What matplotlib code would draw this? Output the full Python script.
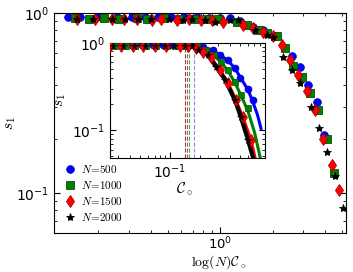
import numpy as np
import matplotlib
matplotlib.use("Agg")
import matplotlib.pyplot as plt

plt.rcParams['mathtext.fontset'] = 'cm'

# main panel: s1 vs log(N) C
x500 = [0.134, 0.158, 0.198, 0.258, 0.314, 0.373, 0.442, 0.525, 0.623, 0.739, 0.865, 1.0,
        1.14, 1.30, 1.54, 1.76, 2.06, 2.58, 2.86, 3.18, 3.58, 3.93]
y500 = [0.95, 0.95, 0.95, 0.95, 0.95, 0.95, 0.95, 0.95, 0.95, 0.95, 0.94, 0.94,
        0.94, 0.90, 0.84, 0.80, 0.74, 0.58, 0.50, 0.40, 0.32, 0.21]
x1000 = [0.147, 0.178, 0.217, 0.265, 0.336, 0.382, 0.479, 0.583, 0.710, 0.85, 0.974, 1.25,
         1.43, 1.65, 1.86, 2.12, 2.35, 2.61, 2.94, 3.27, 3.63, 4.09, 4.49]
y1000 = [0.94, 0.93, 0.94, 0.93, 0.94, 0.93, 0.94, 0.93, 0.93, 0.93, 0.92, 0.89,
         0.86, 0.80, 0.77, 0.74, 0.64, 0.51, 0.44, 0.36, 0.29, 0.20, 0.13]
x1500 = [0.152, 0.191, 0.241, 0.283, 0.336, 0.409, 0.460, 0.568, 0.665, 0.779, 0.90, 1.04,
         1.35, 1.54, 1.76, 2.01, 2.26, 2.51, 2.79, 3.14, 3.49, 3.88, 4.37, 4.79]
y1500 = [0.92, 0.92, 0.92, 0.92, 0.92, 0.91, 0.92, 0.91, 0.92, 0.91, 0.91, 0.89,
         0.86, 0.83, 0.78, 0.74, 0.66, 0.55, 0.45, 0.37, 0.29, 0.20, 0.143, 0.104]
x2000 = [0.152, 0.188, 0.241, 0.287, 0.340, 0.404, 0.511, 0.610, 0.692, 0.82, 0.936, 1.14,
         1.27, 1.58, 1.86, 2.01, 2.29, 2.58, 2.86, 3.31, 3.68, 4.09, 4.54, 5.05]
y2000 = [0.92, 0.92, 0.93, 0.92, 0.92, 0.92, 0.92, 0.91, 0.92, 0.91, 0.89, 0.91,
         0.91, 0.80, 0.755, 0.736, 0.57, 0.48, 0.41, 0.30, 0.23, 0.17, 0.124, 0.083]

# inset: s1 vs C (markers)
c500 = [0.026, 0.033, 0.042, 0.053, 0.067, 0.085, 0.108, 0.137, 0.174, 0.214, 0.269, 0.316,
        0.38, 0.447, 0.501, 0.603, 0.676]
s500 = [0.94, 0.94, 0.94, 0.94, 0.94, 0.94, 0.94, 0.94, 0.94, 0.90, 0.83, 0.73,
        0.64, 0.52, 0.40, 0.30, 0.22]
c1000 = [0.028, 0.036, 0.045, 0.057, 0.072, 0.091, 0.115, 0.146, 0.185, 0.23, 0.275, 0.324,
         0.38, 0.447, 0.513, 0.603]
s1000 = [0.93, 0.93, 0.93, 0.93, 0.93, 0.93, 0.93, 0.93, 0.93, 0.84, 0.72, 0.605,
         0.49, 0.356, 0.253, 0.179]
c1500 = [0.025, 0.032, 0.043, 0.054, 0.071, 0.091, 0.126, 0.151, 0.18, 0.214, 0.257, 0.316,
         0.38, 0.457, 0.537, 0.646]
s1500 = [0.92, 0.92, 0.92, 0.92, 0.92, 0.92, 0.92, 0.92, 0.88, 0.79, 0.69, 0.49,
         0.347, 0.221, 0.141, 0.077]
c2000 = [0.027, 0.034, 0.044, 0.056, 0.07, 0.089, 0.11, 0.14, 0.165, 0.191, 0.24, 0.288,
         0.355, 0.447, 0.513, 0.603]
s2000 = [0.92, 0.92, 0.92, 0.92, 0.92, 0.92, 0.92, 0.92, 0.92, 0.83, 0.73, 0.53,
         0.376, 0.221, 0.141, 0.077]

# inset: solid curves
lc500 = [0.02, 0.17, 0.19, 0.214, 0.269, 0.316, 0.38, 0.447, 0.501, 0.603, 0.676, 0.75, 0.813]
ls500 = [0.95, 0.95, 0.93, 0.89, 0.82, 0.73, 0.63, 0.51, 0.41, 0.29, 0.21, 0.15, 0.105]
lc1000 = [0.02, 0.16, 0.19, 0.23, 0.275, 0.324, 0.38, 0.447, 0.513, 0.603, 0.70, 0.80]
ls1000 = [0.95, 0.95, 0.92, 0.84, 0.72, 0.60, 0.48, 0.35, 0.25, 0.165, 0.095, 0.048]
lc1500 = [0.02, 0.15, 0.18, 0.214, 0.257, 0.316, 0.38, 0.457, 0.537, 0.646, 0.72]
ls1500 = [0.95, 0.95, 0.90, 0.80, 0.68, 0.49, 0.35, 0.22, 0.14, 0.077, 0.045]
lc2000 = [0.02, 0.14, 0.165, 0.191, 0.24, 0.288, 0.355, 0.447, 0.513, 0.603, 0.69]
ls2000 = [0.95, 0.95, 0.92, 0.84, 0.72, 0.54, 0.38, 0.22, 0.14, 0.077, 0.045]

# dashed markers in inset
c_dash = [0.141, 0.148, 0.155, 0.174]

labels = [r'$N\!=\!500$', r'$N\!=\!1000$', r'$N\!=\!1500$', r'$N\!=\!2000$']
styles = [dict(marker='o', color='#0000ff', mec='#0000cc', ms=5.5),
          dict(marker='s', color='#008000', mec='#005000', ms=5.5),
          dict(marker='d', color='#ff0000', mec='#aa0000', ms=6.5),
          dict(marker='*', color='#000000', mec='#000000', ms=6)]
line_w = [2.2, 2.2, 2.2, 3.0]
dash_colors = ['#884444', '#dd4444', '#44aa44', '#8888ff']


def style_axes(ax):
    ax.tick_params(which='both', direction='in', top=True, right=True, labelsize=10)
    ax.tick_params(which='major', length=4)
    ax.tick_params(which='minor', length=2)


fig = plt.figure(figsize=(3.53, 2.72), dpi=100)
ax = fig.add_axes([0.153, 0.1434, 0.827, 0.809])
mains = [(x500, y500), (x1000, y1000), (x1500, y1500), (x2000, y2000)]
for (xs, ys), st, lab in zip(mains, styles, labels):
    ax.plot(xs, ys, ls='none', marker=st['marker'], color=st['color'], mec=st['mec'],
            mew=0.6, ms=st['ms'], label=lab)
ax.set_xscale('log')
ax.set_yscale('log')
ax.set_xlim(0.112, 5.25)
ax.set_ylim(0.06, 1.0)
style_axes(ax)
ax.tick_params(axis='x', which='both', pad=2, labelsize=9.5)
ax.set_xlabel(r'$\log(N)\mathcal{C}_\circ$', fontsize=10)
ax.xaxis.set_label_coords(0.565, -0.093)
ax.set_ylabel(r'$s_1$', fontsize=11)
ax.yaxis.set_label_coords(-0.125, 0.5)
leg = ax.legend(loc='lower left', bbox_to_anchor=(0.0, 0.0), frameon=False, fontsize=8,
                handlelength=1.0, handletextpad=0.5, labelspacing=0.35, borderaxespad=0.5)

ins = fig.add_axes([0.3116, 0.419, 0.439, 0.423])
for cx, dc in zip(c_dash, dash_colors):
    ins.axvline(cx, color=dc, ls='--', lw=0.8, zorder=1)
curves = [(lc500, ls500), (lc1000, ls1000), (lc1500, ls1500), (lc2000, ls2000)]
for (cs, ss), st, lw in zip(curves, styles, line_w):
    ins.plot(cs, ss, color=st['color'], lw=lw, zorder=2)
pts = [(c500, s500), (c1000, s1000), (c1500, s1500), (c2000, s2000)]
for (cs, ss), st in zip(pts, styles):
    ins.plot(cs, ss, ls='none', marker=st['marker'], color=st['color'], mec=st['mec'],
             mew=0.5, ms=st['ms'] - 0.5, zorder=3)
ins.set_xscale('log')
ins.set_yscale('log')
ins.set_xlim(0.0251, 0.891)
ins.set_ylim(0.048, 1.0)
style_axes(ins)
ins.set_xlabel(r'$\mathcal{C}_\circ$', fontsize=11)
ins.xaxis.set_label_coords(0.48, -0.2)
ins.set_ylabel(r'$s_1$', fontsize=11)
ins.yaxis.set_label_coords(-0.27, 0.5)

fig.savefig('out.png', dpi=100)
